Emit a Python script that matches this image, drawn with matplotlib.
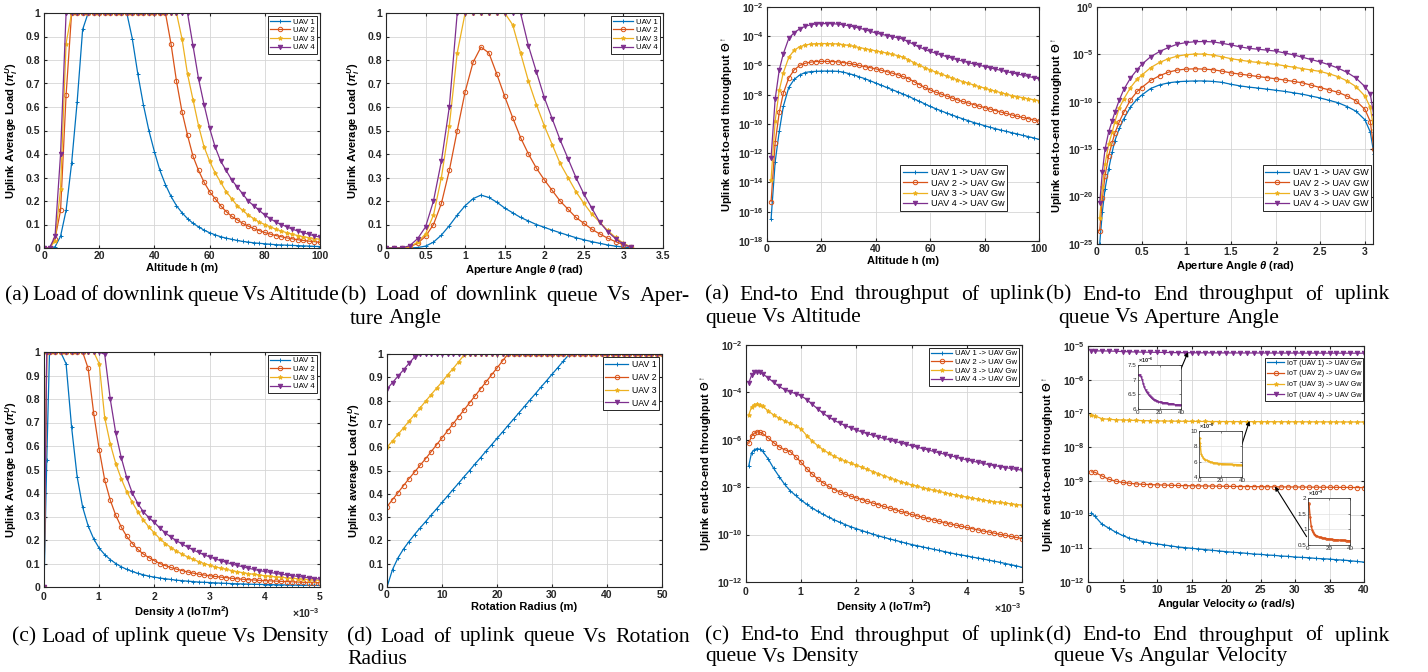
import numpy as np
import matplotlib
matplotlib.use("Agg")
import matplotlib.pyplot as plt
from matplotlib.ticker import FuncFormatter, ScalarFormatter, NullLocator

# ---------------- data ----------------
# (a) load vs altitude
alt_x = np.arange(0, 101, 2)
load_alt_1 = [0, 0, 0.005, 0.05, 0.16, 0.36, 0.62, 0.93, 1, 1, 1, 1, 1, 1, 1, 1,
              0.89, 0.74, 0.61, 0.50, 0.41, 0.33, 0.27, 0.22, 0.18, 0.15, 0.125, 0.105,
              0.09, 0.076, 0.065, 0.056, 0.048, 0.042, 0.037, 0.032, 0.028, 0.025, 0.022,
              0.02, 0.018, 0.016, 0.014, 0.013, 0.012, 0.011, 0.01, 0.009, 0.008, 0.007, 0.006]
load_alt_2 = [0, 0, 0.04, 0.16, 0.65, 1, 1, 1, 1, 1, 1, 1, 1, 1, 1, 1, 1, 1, 1, 1, 1, 1, 1,
              0.87, 0.71, 0.58, 0.48, 0.39, 0.33, 0.28, 0.24, 0.21, 0.18, 0.155, 0.135, 0.12,
              0.105, 0.093, 0.083, 0.074, 0.066, 0.059, 0.053, 0.048, 0.043, 0.039, 0.035,
              0.032, 0.029, 0.027, 0.024]
load_alt_3 = [0, 0, 0.03, 0.25, 0.87, 1, 1, 1, 1, 1, 1, 1, 1, 1, 1, 1, 1, 1, 1, 1, 1, 1, 1, 1, 1,
              0.89, 0.74, 0.63, 0.52, 0.43, 0.37, 0.32, 0.28, 0.24, 0.21, 0.18, 0.16, 0.14,
              0.125, 0.11, 0.10, 0.09, 0.08, 0.072, 0.065, 0.058, 0.053, 0.048, 0.044, 0.04, 0.037]
load_alt_4 = [0, 0, 0.05, 0.40, 1, 1, 1, 1, 1, 1, 1, 1, 1, 1, 1, 1, 1, 1, 1, 1, 1, 1, 1, 1, 1, 1, 1,
              0.86, 0.72, 0.61, 0.51, 0.43, 0.37, 0.33, 0.29, 0.26, 0.23, 0.20, 0.18, 0.16,
              0.14, 0.125, 0.11, 0.10, 0.09, 0.08, 0.072, 0.065, 0.058, 0.052, 0.046]

# (b) load vs aperture angle
ang_x = np.round(np.arange(0, 3.11, 0.1), 2)
load_ang_1 = [0, 0, 0, 0, 0.002, 0.008, 0.025, 0.055, 0.095, 0.14, 0.18, 0.21, 0.225, 0.215,
              0.195, 0.17, 0.15, 0.13, 0.115, 0.10, 0.088, 0.076, 0.065, 0.054, 0.044, 0.035,
              0.027, 0.02, 0.013, 0.008, 0.004, 0.001]
load_ang_2 = [0, 0, 0, 0.005, 0.02, 0.05, 0.10, 0.19, 0.33, 0.50, 0.665, 0.79, 0.855, 0.83,
              0.74, 0.645, 0.555, 0.47, 0.40, 0.34, 0.29, 0.245, 0.20, 0.165, 0.13, 0.105,
              0.08, 0.06, 0.042, 0.027, 0.014, 0.003]
load_ang_3 = [0, 0, 0, 0.005, 0.025, 0.06, 0.14, 0.30, 0.52, 0.83, 1, 1, 1, 1, 1, 1, 0.95, 0.83,
              0.71, 0.61, 0.52, 0.44, 0.36, 0.30, 0.24, 0.19, 0.145, 0.11, 0.075, 0.045, 0.02, 0.004]
load_ang_4 = [0, 0, 0, 0.01, 0.04, 0.09, 0.20, 0.37, 0.60, 1, 1, 1, 1, 1, 1, 1, 1, 1, 0.86, 0.75,
              0.64, 0.55, 0.46, 0.38, 0.30, 0.23, 0.17, 0.11, 0.07, 0.04, 0.016, 0.003]

# (c) load vs density (x in units of 1e-3 IoT/m^2)
dens_x = np.array([0, 0.05] + list(np.round(np.arange(0.1, 5.01, 0.1), 2)))
load_dens_1 = [0, 0.54, 1, 1, 1, 0.95, 0.68, 0.47, 0.34, 0.26, 0.205, 0.165, 0.138, 0.117, 0.10,
               0.086, 0.075, 0.066, 0.058, 0.052, 0.046, 0.042, 0.038, 0.035, 0.032, 0.029,
               0.027, 0.025, 0.023, 0.021, 0.02, 0.019, 0.0175, 0.0165, 0.0155, 0.0145, 0.0137,
               0.013, 0.0123, 0.0116, 0.011, 0.0105, 0.01, 0.0095, 0.009, 0.0087, 0.0083, 0.008,
               0.0076, 0.0073, 0.007, 0.0067]
load_dens_2 = [0, 1, 1, 1, 1, 1, 1, 1, 1, 0.93, 0.74, 0.585, 0.455, 0.37, 0.305, 0.255, 0.215,
               0.185, 0.16, 0.14, 0.125, 0.112, 0.10, 0.091, 0.083, 0.076, 0.07, 0.064, 0.059,
               0.055, 0.051, 0.048, 0.045, 0.042, 0.04, 0.037, 0.035, 0.033, 0.031, 0.03, 0.028,
               0.027, 0.026, 0.025, 0.024, 0.023, 0.022, 0.021, 0.02, 0.019, 0.0185, 0.018]
load_dens_3 = [0, 1, 1, 1, 1, 1, 1, 1, 1, 1, 1, 0.95, 0.72, 0.61, 0.525, 0.46, 0.405, 0.36, 0.32,
               0.285, 0.255, 0.23, 0.205, 0.185, 0.168, 0.153, 0.14, 0.128, 0.118, 0.108, 0.10,
               0.093, 0.086, 0.08, 0.075, 0.07, 0.065, 0.061, 0.057, 0.054, 0.051, 0.048, 0.045,
               0.043, 0.041, 0.039, 0.037, 0.035, 0.033, 0.031, 0.03, 0.028]
load_dens_4 = [0, 1, 1, 1, 1, 1, 1, 1, 1, 1, 1, 1, 0.99, 0.80, 0.655, 0.55, 0.465, 0.40, 0.355,
               0.32, 0.295, 0.275, 0.25, 0.23, 0.212, 0.197, 0.183, 0.17, 0.158, 0.147, 0.137,
               0.128, 0.12, 0.112, 0.105, 0.098, 0.092, 0.086, 0.08, 0.075, 0.07, 0.066, 0.062,
               0.058, 0.054, 0.051, 0.048, 0.045, 0.042, 0.039, 0.036, 0.034]

# (d) load vs rotation radius
rad_x = np.arange(0, 51, 1)
load_rad_1 = [0, 0.075, 0.125, 0.163, 0.195, 0.225, 0.253, 0.28, 0.308, 0.335, 0.363, 0.39,
              0.418, 0.445, 0.473, 0.5, 0.528, 0.555, 0.583, 0.61, 0.638, 0.665, 0.693, 0.72,
              0.748, 0.775, 0.803, 0.83, 0.858, 0.885, 0.913, 0.94, 0.968, 0.995] + [1.0] * 17
load_rad_2 = [0.345, 0.375, 0.405, 0.435, 0.465, 0.493, 0.522, 0.55, 0.58, 0.61, 0.64, 0.67,
              0.70, 0.73, 0.76, 0.79, 0.82, 0.85, 0.88, 0.91, 0.94, 0.97] + [1.0] * 29
load_rad_3 = [0.60, 0.627, 0.655, 0.683, 0.712, 0.74, 0.768, 0.797, 0.825, 0.853, 0.88, 0.91,
              0.937, 0.966, 0.995] + [1.0] * 36
load_rad_4 = [0.85, 0.877, 0.905, 0.932, 0.96, 0.987] + [1.0] * 45

# throughput vs altitude (log10 values)
thr_alt_x = [1.5, 3, 4.5, 6] + list(range(8, 101, 2))
thr_alt_1 = [-16.5, -12.6, -10.5, -8.8, -7.5, -6.95, -6.65, -6.48, -6.42, -6.4, -6.38, -6.38,
             -6.38, -6.4, -6.45, -6.55, -6.65, -6.78, -6.9, -7.05, -7.2, -7.35, -7.5, -7.65,
             -7.8, -7.95, -8.1, -8.28, -8.45, -8.62, -8.8, -8.95, -9.1, -9.25, -9.38, -9.52,
             -9.65, -9.77, -9.9, -10.0, -10.12, -10.22, -10.32, -10.42, -10.5, -10.6, -10.68,
             -10.78, -10.86, -10.95, -11.05]
thr_alt_2 = [-15.3, -11.3, -9.2, -7.9, -6.85, -6.3, -6.0, -5.85, -5.77, -5.73, -5.72, -5.72,
             -5.73, -5.75, -5.8, -5.85, -5.92, -6.0, -6.08, -6.15, -6.23, -6.32, -6.42, -6.52,
             -6.63, -6.75, -6.9, -7.1, -7.3, -7.5, -7.67, -7.82, -7.95, -8.08, -8.22, -8.35,
             -8.46, -8.57, -8.67, -8.78, -8.88, -8.98, -9.08, -9.18, -9.28, -9.38, -9.47,
             -9.55, -9.63, -9.72, -9.8]
thr_alt_3 = [-13.8, -9.8, -7.7, -6.5, -5.45, -4.95, -4.72, -4.6, -4.54, -4.51, -4.5, -4.5,
             -4.51, -4.53, -4.57, -4.63, -4.7, -4.77, -4.85, -4.92, -5.0, -5.08, -5.15, -5.24,
             -5.32, -5.43, -5.6, -5.8, -5.98, -6.15, -6.3, -6.45, -6.58, -6.72, -6.85, -6.98,
             -7.1, -7.22, -7.33, -7.44, -7.55, -7.66, -7.76, -7.86, -7.96, -8.06, -8.13,
             -8.2, -8.27, -8.34, -8.4]
thr_alt_4 = [-12.3, -8.3, -6.3, -5.2, -4.15, -3.75, -3.5, -3.32, -3.22, -3.16, -3.14, -3.13,
             -3.14, -3.17, -3.22, -3.28, -3.36, -3.45, -3.55, -3.66, -3.78, -3.86, -3.95, -4.03,
             -4.1, -4.2, -4.38, -4.56, -4.74, -4.9, -5.04, -5.16, -5.28, -5.39, -5.5, -5.61,
             -5.7, -5.8, -5.89, -5.98, -6.07, -6.16, -6.25, -6.33, -6.42, -6.5, -6.58, -6.66,
             -6.74, -6.83, -6.91]

# throughput vs aperture angle (log10 values)
thr_ang_x = [0.03, 0.06, 0.09, 0.13, 0.17, 0.2, 0.25, 0.3, 0.375, 0.45, 0.5,
             0.6, 0.7, 0.8, 0.9, 1.0, 1.1, 1.2, 1.3, 1.4, 1.5, 1.6, 1.7, 1.8, 1.9, 2.0,
             2.1, 2.2, 2.3, 2.4, 2.5, 2.6, 2.7, 2.8, 2.9, 3.0, 3.06, 3.1]
thr_ang_1 = [-25, -21.6, -19.2, -17.1, -15.3, -14.1, -12.8, -11.8, -10.55, -9.7, -9.3,
             -8.6, -8.22, -8.0, -7.88, -7.83, -7.8, -7.8, -7.85, -7.95, -8.15, -8.32, -8.45,
             -8.55, -8.66, -8.78, -8.9, -9.05, -9.2, -9.4, -9.6, -9.85, -10.1, -10.5, -11.0,
             -11.9, -13.2, -15.5]
thr_ang_2 = [-23.6, -20.2, -17.8, -15.7, -14.3, -13.3, -12.1, -11.1, -9.8, -8.9, -8.5,
             -7.75, -7.25, -6.87, -6.65, -6.55, -6.52, -6.55, -6.62, -6.77, -6.95, -7.08, -7.2,
             -7.33, -7.45, -7.57, -7.7, -7.85, -8.0, -8.25, -8.5, -8.75, -9.0, -9.4, -9.9,
             -10.8, -12.1, -15.0]
thr_ang_3 = [-22.3, -19.0, -16.6, -14.5, -13.2, -12.1, -10.65, -9.7, -8.5, -7.6, -7.2,
             -6.4, -5.85, -5.45, -5.18, -5.03, -4.96, -4.97, -5.08, -5.25, -5.45, -5.6, -5.74,
             -5.85, -5.95, -6.05, -6.2, -6.35, -6.5, -6.65, -6.8, -7.05, -7.35, -7.8, -8.4,
             -9.4, -10.6, -13.0]
thr_ang_4 = [-20.7, -17.4, -15.0, -13.2, -12.0, -11.1, -9.8, -8.7, -7.5, -6.6, -6.06,
             -5.25, -4.7, -4.27, -3.92, -3.75, -3.66, -3.64, -3.68, -3.83, -4.0, -4.2, -4.36,
             -4.45, -4.55, -4.65, -4.85, -5.05, -5.3, -5.55, -5.8, -6.1, -6.45, -6.9, -7.5,
             -8.4, -9.2, -11.5]

# throughput vs density (x in 1e-3, log10 values)
thr_dens_x = [0.05, 0.1, 0.15, 0.2, 0.25, 0.3] + list(np.round(np.arange(0.4, 5.01, 0.1), 2))
thr_dens_1 = [-7.1, -6.55, -6.42, -6.37, -6.4, -6.48, -6.8, -7.2, -7.55, -7.88, -8.15, -8.35,
              -8.55, -8.72, -8.88, -9.02, -9.15, -9.27, -9.38, -9.48, -9.58, -9.67, -9.75,
              -9.83, -9.91, -9.98, -10.05, -10.12, -10.18, -10.24, -10.3, -10.36, -10.42,
              -10.47, -10.52, -10.57, -10.62, -10.67, -10.72, -10.77, -10.82, -10.86, -10.9,
              -10.95, -10.99, -11.03, -11.08, -11.12, -11.17, -11.22, -11.27, -11.32, -11.38]
thr_dens_2 = [-6.15, -5.85, -5.72, -5.66, -5.68, -5.73, -5.92, -6.12, -6.3, -6.42, -6.5, -6.72,
              -6.95, -7.22, -7.45, -7.65, -7.82, -7.97, -8.1, -8.2, -8.3, -8.38, -8.45, -8.52,
              -8.6, -8.67, -8.74, -8.81, -8.88, -8.95, -9.02, -9.08, -9.15, -9.21, -9.27, -9.33,
              -9.38, -9.44, -9.5, -9.55, -9.6, -9.65, -9.7, -9.75, -9.8, -9.85, -9.89, -9.94,
              -9.99, -10.03, -10.08, -10.12, -10.17]
thr_dens_3 = [-4.95, -4.62, -4.52, -4.48, -4.52, -4.58, -4.78, -4.95, -5.08, -5.2, -5.3, -5.4,
              -5.55, -5.82, -6.05, -6.25, -6.42, -6.57, -6.7, -6.8, -6.9, -6.99, -7.07, -7.16,
              -7.25, -7.34, -7.43, -7.52, -7.6, -7.68, -7.76, -7.84, -7.9, -7.96, -8.02, -8.08,
              -8.13, -8.18, -8.23, -8.28, -8.33, -8.38, -8.42, -8.46, -8.5, -8.54, -8.58, -8.61,
              -8.64, -8.67, -8.7, -8.73, -8.76]
thr_dens_4 = [-3.6, -3.28, -3.15, -3.12, -3.15, -3.22, -3.38, -3.58, -3.75, -3.88, -3.98, -4.05,
              -4.15, -4.3, -4.5, -4.7, -4.88, -5.05, -5.18, -5.3, -5.4, -5.5, -5.59, -5.67,
              -5.74, -5.81, -5.88, -5.94, -6.0, -6.07, -6.13, -6.19, -6.25, -6.31, -6.37, -6.43,
              -6.49, -6.55, -6.61, -6.67, -6.73, -6.79, -6.85, -6.9, -6.95, -7.0, -7.05, -7.09,
              -7.13, -7.17, -7.21, -7.25, -7.28]

# throughput vs angular velocity
omega_x = [0.5] + list(range(1, 41))
thr_om_1_log = [-9.95, -10.05, -10.28, -10.4, -10.52, -10.62, -10.7, -10.75, -10.8, -10.84,
                -10.87, -10.9, -10.93, -10.96, -10.98, -11.0, -11.02, -11.04, -11.06, -11.08,
                -11.1, -11.12, -11.13, -11.15, -11.17, -11.18, -11.2, -11.21, -11.23, -11.24,
                -11.26, -11.27, -11.28, -11.3, -11.31, -11.32, -11.34, -11.35, -11.37, -11.39,
                -11.41]
thr_om_2_e9 = [1.85, 1.8, 1.4, 1.12, 0.98, 0.9, 0.85, 0.81, 0.79, 0.775, 0.76, 0.75, 0.74, 0.73,
               0.72, 0.715, 0.71, 0.705, 0.70, 0.695, 0.69, 0.685, 0.68, 0.677, 0.674, 0.671,
               0.668, 0.665, 0.662, 0.66, 0.658, 0.655, 0.652, 0.65, 0.647, 0.645, 0.642, 0.64,
               0.637, 0.634, 0.632]
thr_om_3_e8 = [9.1, 8.4, 7.0, 6.7, 6.5, 6.38, 6.28, 6.2, 6.12, 6.05, 6.0, 5.96, 5.92, 5.88, 5.85,
               5.82, 5.8, 5.78, 5.76, 5.75, 5.74, 5.73, 5.72, 5.71, 5.7, 5.69, 5.68, 5.67, 5.67,
               5.66, 5.65, 5.64, 5.63, 5.62, 5.62, 5.61, 5.6, 5.59, 5.58, 5.58, 5.57]
thr_om_4_e6 = [7.15, 7.15, 7.15, 7.1, 6.99, 6.85, 6.74, 6.65, 6.58, 6.53, 6.48, 6.44, 6.4, 6.36,
               6.33, 6.31, 6.29, 6.28, 6.26, 6.25, 6.23, 6.23, 6.22, 6.22, 6.21, 6.2, 6.2, 6.19,
               6.18, 6.18, 6.17, 6.17, 6.16, 6.16, 6.15, 6.14, 6.14, 6.13, 6.13, 6.12, 6.12]

uav_labels = ["UAV 1", "UAV 2", "UAV 3", "UAV 4"]
gw_labels = ["UAV 1 -> UAV Gw", "UAV 2 -> UAV Gw", "UAV 3 -> UAV Gw", "UAV 4 -> UAV Gw"]
GW_labels = ["UAV 1 -> UAV GW", "UAV 2 -> UAV GW", "UAV 3 -> UAV GW", "UAV 4 -> UAV GW"]
iot_labels = ["IoT (UAV 1) -> UAV Gw", "IoT (UAV 2) -> UAV Gw",
              "IoT (UAV 3) -> UAV Gw", "IoT (UAV 4) -> UAV Gw"]

# ---------------- style ----------------
plt.rcParams.update({
    "font.family": "Liberation Sans",
    "font.weight": "bold",
    "axes.labelweight": "bold",
    "mathtext.fontset": "custom",
    "mathtext.rm": "Liberation Sans:bold",
    "mathtext.it": "Liberation Sans:italic",
    "mathtext.bf": "Liberation Sans:bold",
    "axes.linewidth": 0.8,
    "axes.edgecolor": "#262626",
    "xtick.color": "#262626",
    "ytick.color": "#262626",
    "xtick.labelsize": 7.5,
    "ytick.labelsize": 7.5,
    "xtick.direction": "in",
    "ytick.direction": "in",
    "xtick.major.size": 2.5,
    "ytick.major.size": 2.5,
    "xtick.top": True,
    "ytick.right": True,
    "xtick.major.pad": 2.5,
    "ytick.major.pad": 2.5,
})

COLORS = ["#0072BD", "#D95319", "#EDB120", "#7E2F8E"]
MARKERS = ["+", "o", "*", "v"]
W, H = 1428, 672

fig = plt.figure(figsize=(W / 100, H / 100), dpi=100)
main_axes = []


def add_ax(x0, x1, y0, y1):
    # pixel box (from top-left) -> figure fraction
    return fig.add_axes([x0 / W, 1 - y1 / H, (x1 - x0) / W, (y1 - y0) / H])


def draw(ax, x, series, labels, ms=3.2, lw=0.9):
    for y, c, m, lab in zip(series, COLORS, MARKERS, labels):
        mfc = "none" if m == "o" else c
        ax.plot(x, y, color=c, marker=m, ms=ms, mew=0.7, mfc=mfc, lw=lw, label=lab)
    main_axes.append(ax)


def style(ax):
    ax.grid(True, color="#d6d6d6", lw=0.6)
    ax.set_axisbelow(True)


def legend(ax, size=6.3, pad=0.35, spacing=0.15, hl=2.6, **kw):
    leg = ax.legend(prop={"size": size, "weight": "normal"}, fancybox=False,
                    edgecolor="#262626", framealpha=1, borderpad=0.3, labelspacing=spacing,
                    handlelength=hl, handletextpad=0.4, borderaxespad=pad, **kw)
    leg.get_frame().set_linewidth(0.7)
    return leg


def load_axis(ax):
    ax.set_ylim(0, 1)
    ax.set_yticks(np.arange(0, 1.01, 0.1))
    ax.yaxis.set_major_formatter(FuncFormatter(lambda v, p: f"{v:g}"))


def log_axis(ax, lo, hi, step):
    ax.set_yscale("log")
    ax.set_ylim(10.0 ** lo, 10.0 ** hi)
    exps = list(range(lo, hi + 1, step))
    ax.set_yticks([10.0 ** e for e in exps])
    ax.set_yticklabels([f"$10^{{{e}}}$" for e in exps])
    ax.yaxis.set_minor_locator(NullLocator())


def sci_x(ax):
    f = ScalarFormatter(useMathText=True)
    f.set_powerlimits((0, 0))
    ax.xaxis.set_major_formatter(f)
    ax.xaxis.get_offset_text().set_fontsize(7.5)


LOAD_LABEL = r"Uplink Average Load ($\pi_i^U$)"
THR_LABEL = r"Uplink end-to-end throughput $\Theta^{\uparrow}$"
LBL = dict(fontsize=8, fontweight="bold")

# ---- top row, left pair ----
ax = add_ax(44, 320, 13, 248)
draw(ax, alt_x, [load_alt_1, load_alt_2, load_alt_3, load_alt_4], uav_labels)
style(ax); load_axis(ax)
ax.set_xlim(0, 100)
ax.set_xlabel("Altitude h (m)", labelpad=1, **LBL)
ax.set_ylabel(LOAD_LABEL, labelpad=4, **LBL)
legend(ax, size=5.6, loc="upper right")

ax = add_ax(386, 663, 13, 248)
draw(ax, ang_x, [load_ang_1, load_ang_2, load_ang_3, load_ang_4], uav_labels)
style(ax); load_axis(ax)
ax.set_xlim(0, 3.5)
ax.set_xticks(np.arange(0, 3.51, 0.5))
ax.xaxis.set_major_formatter(FuncFormatter(lambda v, p: f"{v:g}"))
ax.set_xlabel(r"Aperture Angle $\theta$ (rad)", labelpad=1, **LBL)
ax.set_ylabel(LOAD_LABEL, labelpad=4, **LBL)
legend(ax, size=5.6, loc="upper right")

# ---- top row, right pair ----
ax = add_ax(767, 1039, 7, 241)
draw(ax, thr_alt_x, [10.0 ** np.array(s) for s in (thr_alt_1, thr_alt_2, thr_alt_3, thr_alt_4)],
     gw_labels)
style(ax); log_axis(ax, -18, -2, 2)
ax.set_xlim(0, 100)
ax.set_xlabel("Altitude h (m)", labelpad=1, **LBL)
ax.set_ylabel(THR_LABEL, labelpad=1, **LBL)
legend(ax, size=6.6, pad=0, loc="lower left", bbox_to_anchor=(0.49, 0.128))

ax = add_ax(1097, 1373, 7, 244)
draw(ax, thr_ang_x, [10.0 ** np.array(s) for s in (thr_ang_1, thr_ang_2, thr_ang_3, thr_ang_4)],
     GW_labels)
style(ax); log_axis(ax, -25, 0, 5)
ax.set_xlim(0, 3.09)
ax.set_xticks(np.arange(0, 3.01, 0.5))
ax.xaxis.set_major_formatter(FuncFormatter(lambda v, p: f"{v:g}"))
ax.set_xlabel(r"Aperture Angle $\theta$ (rad)", labelpad=1, **LBL)
ax.set_ylabel(THR_LABEL, labelpad=1, **LBL)
legend(ax, size=6.6, pad=0, loc="lower left", bbox_to_anchor=(0.60, 0.139))

# ---- bottom row, left pair ----
ax = add_ax(44, 320, 352, 587)
draw(ax, dens_x * 1e-3, [load_dens_1, load_dens_2, load_dens_3, load_dens_4], uav_labels)
style(ax); load_axis(ax)
ax.set_xlim(0, 5e-3)
sci_x(ax)
ax.set_xlabel(r"Density $\lambda$ (IoT/m$^2$)", labelpad=1, **LBL)
ax.set_ylabel(LOAD_LABEL, labelpad=4, **LBL)
legend(ax, size=5.6, loc="upper right")

ax = add_ax(387, 662, 354, 587)
draw(ax, rad_x, [load_rad_1, load_rad_2, load_rad_3, load_rad_4], uav_labels)
style(ax); load_axis(ax)
ax.set_xlim(0, 50)
ax.set_xlabel("Rotation Radius (m)", labelpad=1, **LBL)
ax.set_ylabel(r"Uplink average Load ($\pi_i^U$)", labelpad=4, **LBL)
legend(ax, size=6.3, spacing=0.45, loc="upper right")

# ---- bottom row, right pair ----
ax = add_ax(746, 1022, 345, 582)
draw(ax, np.array(thr_dens_x) * 1e-3,
     [10.0 ** np.array(s) for s in (thr_dens_1, thr_dens_2, thr_dens_3, thr_dens_4)], gw_labels)
style(ax); log_axis(ax, -12, -2, 2)
ax.set_xlim(0, 5e-3)
sci_x(ax)
ax.set_xlabel(r"Density $\lambda$ (IoT/m$^2$)", labelpad=1, **LBL)
ax.set_ylabel(THR_LABEL, labelpad=1, **LBL)
legend(ax, size=5.6, loc="upper right")

ax = add_ax(1088, 1364, 346, 582)
om_series = [10.0 ** np.array(thr_om_1_log), np.array(thr_om_2_e9) * 1e-9,
             np.array(thr_om_3_e8) * 1e-8, np.array(thr_om_4_e6) * 1e-6]
draw(ax, omega_x, om_series, iot_labels)
style(ax); log_axis(ax, -12, -5, 1)
ax.set_xlim(0, 40)
ax.set_xticks(np.arange(0, 41, 5))
ax.set_xlabel(r"Angular Velocity $\omega$ (rad/s)", labelpad=1, **LBL)
ax.set_ylabel(THR_LABEL, labelpad=1, **LBL)
legend(ax, size=5.1, pad=0, spacing=0.5, hl=2.3, loc="upper right",
       bbox_to_anchor=(0.997, 0.95))

arrow = dict(arrowstyle="-|>", color="black", lw=0.8, mutation_scale=6, shrinkA=0, shrinkB=0)
ax.annotate("", xy=(14.5, 6.6e-6), xytext=(0.331, 0.887), textcoords="axes fraction",
            arrowprops=arrow)
ax.annotate("", xy=(23.4, 6.0e-8), xytext=(0.557, 0.581), textcoords="axes fraction",
            arrowprops=arrow)
ax.annotate("", xy=(27.1, 6.8e-10), xytext=(0.792, 0.192), textcoords="axes fraction",
            arrowprops=arrow)

for a in main_axes:
    for lab in a.get_xticklabels() + a.get_yticklabels():
        lab.set_fontweight("bold")

# insets
insets = [
    ((1138, 1181, 365, 409), thr_om_4_e6, COLORS[3], "v", (6, 7.5), [6, 6.5, 7, 7.5], r"$\times10^{-6}$"),
    ((1199, 1242, 431, 477), thr_om_3_e8, COLORS[2], "*", (4, 10), [4, 6, 8, 10], r"$\times10^{-8}$"),
    ((1308, 1350, 498, 545), thr_om_2_e9, COLORS[1], "o", (0.5, 2), [0.5, 1, 1.5, 2], r"$\times10^{-9}$"),
]
for box, ys, c, m, ylim, yt, off in insets:
    ia = add_ax(*box)
    ia.plot(omega_x, ys, color=c, marker=m, ms=1.2, mew=0.5,
            mfc="none" if m == "o" else c, lw=1.0)
    ia.set_xlim(0, 40)
    ia.set_ylim(*ylim)
    ia.set_xticks([0, 20, 40])
    ia.set_yticks(yt)
    ia.yaxis.set_major_formatter(FuncFormatter(lambda v, p: f"{v:g}"))
    ia.tick_params(labelsize=4.5, length=1.2, pad=1, width=0.4)
    for lab in ia.get_xticklabels() + ia.get_yticklabels():
        lab.set_fontweight("normal")
    for s in ia.spines.values():
        s.set_linewidth(0.5)
    ia.grid(True, color="#dadada", lw=0.4)
    ia.text(0.0, 1.0, off, transform=ia.transAxes, fontsize=4, ha="left", va="bottom",
            color="#262626")

# ---------------- captions ----------------
CAP = dict(fontsize=15.6, family="Liberation Serif", fontweight="normal", va="center")
renderer = fig.canvas.get_renderer()
probe = fig.text(0, 0, "a a", **CAP)
probe2 = fig.text(0, 0, "aa", **CAP)
SPACE = probe.get_window_extent(renderer).width - probe2.get_window_extent(renderer).width
probe.remove(); probe2.remove()


def caption(text, x0, x1, y, justify=True):
    words = text.split(" ")
    texts = [fig.text(0, 0, w, ha="left", **CAP) for w in words]
    widths = [t.get_window_extent(renderer).width for t in texts]
    if justify and len(words) > 1:
        gap = (x1 - x0 - sum(widths)) / (len(words) - 1)
    else:
        gap = SPACE
    x = x0
    for t, w in zip(texts, widths):
        t.set_position((x / W, 1 - y / H))
        x += w + gap


caption("(a) Load of downlink queue Vs Altitude", 5, 340, 296)
caption("(b) Load of downlink queue Vs Aper-", 341, 690, 296)
caption("ture Angle", 350, 465, 319, justify=False)
caption("(a) End-to End throughput of uplink", 705, 1045, 295)
caption("(b) End-to End throughput of uplink", 1046, 1390, 295)
caption("queue Vs Altitude", 705, 900, 318, justify=False)
caption("queue Vs Aperture Angle", 1058, 1300, 318, justify=False)

caption("(c) Load of uplink queue Vs Density", 12, 338, 637, justify=False)
caption("(d) Load of uplink queue Vs Rotation", 347, 690, 637)
caption("Radius", 347, 420, 659, justify=False)
caption("(c) End-to End throughput of uplink", 705, 1045, 636)
caption("(d) End-to End throughput of uplink", 1046, 1390, 636)
caption("queue Vs Density", 705, 900, 657, justify=False)
caption("queue Vs Angular Velocity", 1053, 1300, 657, justify=False)

fig.savefig("out.png", dpi=100)
